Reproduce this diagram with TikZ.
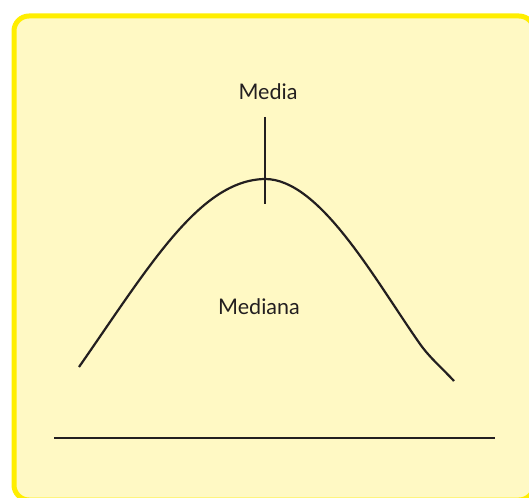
\documentclass[tikz,border=0pt]{standalone}
\usepackage{fontspec}
\setmainfont{Lato}
\definecolor{panelfill}{HTML}{FFF9C4}
\definecolor{panelborder}{HTML}{FFEE00}
\definecolor{ink}{HTML}{231F20}
\tikzset{
  panel/.style={draw=panelborder, fill=panelfill, line width=5pt, rounded corners=15pt},
  inkline/.style={draw=ink, line width=2.2pt},
  lbl/.style={text=ink, font=\fontsize{21.5}{25}\selectfont, inner sep=0pt}
}
\begin{document}
\begin{tikzpicture}[x=1pt,y=-1pt]
\useasboundingbox (0,0) rectangle (529,497);
\begin{scope}
\clip (0,0) rectangle (529,497);
\path[panel] (14,16) rectangle (534,500);
\end{scope}
\coordinate (cs) at (79,367);
\coordinate (peak) at (265,179);
\coordinate (knee) at (420,344);
\coordinate (ce) at (454,381);
\draw[inkline] (cs) .. controls (150,265) and (200,180) .. (peak)
  .. controls (320,179) and (375,280) .. (knee)
  .. controls (430,358) and (440,366) .. (ce);
\coordinate (vtop) at (265,117);
\coordinate (vbot) at (265,204);
\draw[inkline] (vtop) -- (vbot);
\coordinate (hl) at (54,438);
\coordinate (hr) at (495,438);
\draw[inkline] (hl) -- (hr);
\node[lbl] (media) at (268,92) {Media};
\node[lbl] (mediana) at (259,307) {Mediana};
\end{tikzpicture}
\end{document}
